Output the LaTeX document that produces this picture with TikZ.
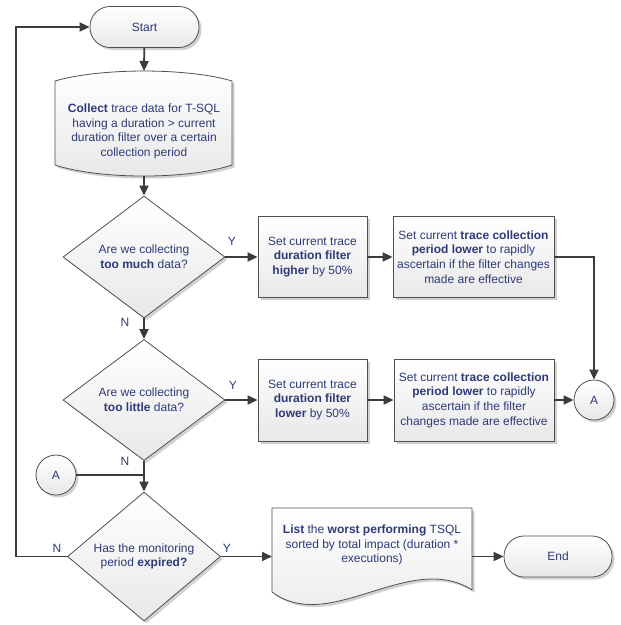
\documentclass[tikz,border=0pt]{standalone}
\usepackage{fontspec}
\setmainfont{Liberation Sans}
\usetikzlibrary{shapes.geometric,arrows.meta,shadows,calc}
\definecolor{txt}{HTML}{2E3A78}
\definecolor{ln}{HTML}{3C3C3C}
\definecolor{bd}{HTML}{505050}
\definecolor{shd}{HTML}{E8E8E8}
\begin{document}
\begin{tikzpicture}[x=1pt,y=-1pt,
 every node/.style={font=\fontsize{12}{14.6}\selectfont, text=txt, align=center, inner sep=0pt},
 base/.style={draw=bd, line width=0.8pt, top color=white, bottom color=shd,
   drop shadow={shadow xshift=2.5pt, shadow yshift=-2.5pt, opacity=0.18, fill=black}},
 term/.style={base, rectangle, rounded corners=20pt, minimum width=109pt, minimum height=41pt},
 proc/.style={base, rectangle, minimum height=81pt},
 dec/.style={base, diamond, aspect=1.3},
 conn/.style={base, circle, minimum size=40pt},
 flow/.style={draw=ln, line width=1.8pt, -{Triangle[length=10pt,width=9pt]}},
 plain/.style={draw=ln, line width=1.8pt},
 lbl/.style={font=\fontsize{12}{14}\selectfont}
]
\fill[white] (0,0) rectangle (621,625);
\useasboundingbox (0,0) rectangle (621,625);

% Start
\node[term] (start) at (144.5,27) {Start};

% Collect (wavy top and bottom)
\path[base] (55,81) .. controls (100,67.7) and (188,67.7) .. (232,81) -- (232,165)
  .. controls (188,179.7) and (100,179.7) .. (55,165) -- cycle;
\node (collect) at (144,131.5) {\textbf{Collect} trace data for T-SQL\\having a duration > current\\duration filter over a certain\\collection period};
\coordinate (ctop) at (144,71);
\coordinate (cbot) at (144,176);

% Row 1
\node[dec, minimum width=162pt, minimum height=122pt] (d1) at (144,257) {Are we collecting\\\textbf{too much} data?};
\node[proc, minimum width=109pt] (b1) at (312.5,257) {Set current trace\\\textbf{duration filter}\\\textbf{higher} by 50\%};
\node[proc, minimum width=161pt] (b2) at (473.5,257) {Set current \textbf{trace collection}\\\textbf{period lower} to rapidly\\ascertain if the filter changes\\made are effective};

% Row 2
\node[dec, minimum width=162pt, minimum height=121pt] (d2) at (144,400) {Are we collecting\\\textbf{too little} data?};
\node[proc, minimum width=109pt, minimum height=82pt] (b3) at (312.5,400) {Set current trace\\\textbf{duration filter}\\\textbf{lower} by 50\%};
\node[proc, minimum width=160pt, minimum height=82pt] (b4) at (474,400) {Set current \textbf{trace collection}\\\textbf{period lower} to rapidly\\ascertain if the filter\\changes made are effective};
\node[conn] (aR) at (594,400) {A};

% Row 3
\node[conn] (aL) at (56,475) {A};
\node[dec, minimum width=153pt, minimum height=129pt] (d3) at (144,556.5) {Has the monitoring\\period \textbf{expired?}};

% Document
\path[base] (272,508) -- (472,508) -- (472,590) .. controls (410,550) and (330,635) .. (272,592) -- cycle;
\node (doc) at (372,545) {\textbf{List} the \textbf{worst performing} TSQL\\sorted by total impact (duration *\\executions)};
\coordinate (docl) at (272,556.5);
\coordinate (docr) at (472,556.5);

\node[term, minimum width=108pt] (end) at (558,556.5) {End};

% Connectors
\draw[flow] (start) -- (ctop);
\draw[flow] (cbot) -- (d1);
\draw[flow] (d1) -- (b1);
\draw[flow] (b1) -- (b2);
\draw[flow] (b2.east) -| (aR.north);
\draw[flow] (d1) -- (d2);
\draw[flow] (d2) -- (b3);
\draw[flow] (b3) -- (b4);
\draw[flow] (b4) -- (aR);
\draw[flow] (d2) -- (d3);
\draw[plain] (aL) -- (aL -| d3.north);
\coordinate (loop) at (16,556.5);
\draw[flow] (d3.west) -- (loop) |- (start.west);
\draw[flow] (d3.east) -- (docl);
\draw[flow] (docr) -- (end);

% Labels
\node[lbl] (y1) at (232,241) {Y};
\node[lbl] (n1) at (125,322) {N};
\node[lbl] (y2) at (233,385) {Y};
\node[lbl] (n2) at (125,461) {N};
\node[lbl] (n3) at (57,548) {N};
\node[lbl] (y3) at (227,548) {Y};
\end{tikzpicture}
\end{document}
